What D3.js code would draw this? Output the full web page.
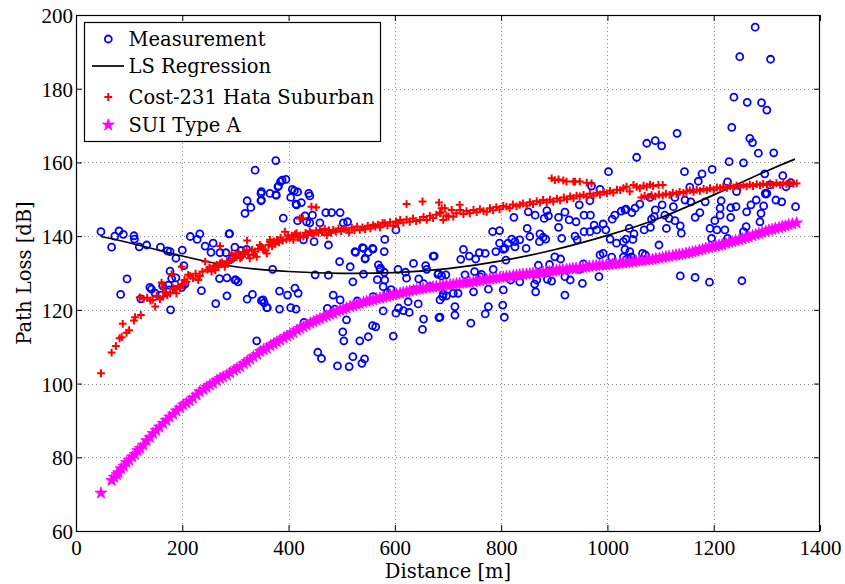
<!DOCTYPE html>
<html><head><meta charset="utf-8">
<script src="https://cdn.jsdelivr.net/npm/d3@7"></script>
<style>
body{margin:0;background:#fff}
</style>
</head><body>
<svg id="chart" width="845" height="584" font-family="Liberation Serif"></svg>
<script>
// ---------------- DATA ----------------
const xTicks = [0,200,400,600,800,1000,1200,1400];
const yTicks = [60,80,100,120,140,160,180,200];
const xLabel = "Distance [m]";
const yLabel = "Path Loss [dB]";
const legendLabels = ["Measurement","LS Regression","Cost-231 Hata Suburban","SUI Type A"];

// [distance m, path loss dB]
const measurement = [
[47,141.2],[67,137.0],[73,140.0],[81,141.4],[89,140.5],[109,140.1],[110,139.2],[119,137.1],[133,137.6],[96,128.4],
[84,124.2],[122,123.0],[159,137.0],[172,136.0],[177,135.8],[188,134.0],[200,136.2],[203,132.0],[177,130.5],[188,128.7],
[180,128.5],[139,126.1],[142,125.6],[149,124.5],[160,124.0],[163,126.5],[174,126.7],[176,125.4],[205,127.0],[199,126.1],
[178,120.0],[215,139.9],[228,139.1],[233,140.6],[243,137.3],[254,135.6],[258,138.1],[271,135.5],[282,135.5],[289,140.7],
[299,137.0],[310,136.1],[321,136.4],[294,134.0],[236,125.2],[270,128.5],[284,128.7],[299,128.1],[305,127.6],[284,123.8],
[263,121.7],[322,122.9],[332,124.2],[349,122.5],[354,121.9],[340,111.6],[359,120.6],[318,146.2],[329,147.8],[348,149.6],
[337,157.9],[376,160.5],[322,149.6],[348,151.6],[365,151.6],[380,153.4],[377,151.1],[388,155.2],[395,155.4],[385,154.8],
[390,144.9],[407,152.7],[411,152.3],[417,152.0],[404,150.5],[414,148.7],[424,149.1],[438,151.6],[440,150.9],[417,144.2],
[431,145.5],[445,145.7],[440,143.6],[459,143.6],[434,143.9],[470,146.4],[481,146.4],[497,146.4],[503,143.6],[511,143.9],
[475,137.6],[496,133.1],[448,138.5],[428,139.0],[516,131.7],[525,135.8],[541,136.7],[544,134.0],[558,136.7],[580,135.8],
[581,139.1],[569,132.2],[572,131.0],[581,128.1],[541,129.7],[521,127.6],[606,131.0],[622,128.6],[635,132.6],[475,129.4],
[450,129.5],[370,131.0],[381,153.6],[349,152.1],[376,151.2],[349,149.8],[415,148.5],[288,140.6],[301,128.1],[602,141.7],
[526,135.6],[539,136.9],[550,135.6],[559,136.5],[544,133.8],[573,131.3],[580,130.2],[672,134.6],[658,132.0],[660,131.0],
[620,130.2],[567,128.2],[578,126.3],[586,124.7],[593,125.5],[645,128.4],[654,127.1],[666,126.3],[681,129.6],[688,129.2],
[696,129.5],[412,125.9],[418,124.5],[383,125.1],[398,124.0],[352,122.7],[360,120.6],[383,120.2],[404,120.6],[414,120.2],
[484,124.0],[497,122.7],[473,120.4],[487,120.2],[529,122.4],[559,123.6],[578,119.7],[602,119.1],[607,120.5],[616,119.8],
[627,119.3],[625,122.2],[644,121.6],[636,125.4],[685,122.7],[690,123.6],[654,117.5],[652,114.7],[683,117.9],[509,117.3],
[429,116.6],[502,114.0],[504,111.6],[534,111.6],[550,112.7],[558,115.7],[564,115.4],[597,112.9],[455,108.5],[462,106.8],
[521,107.3],[543,106.7],[538,105.5],[492,104.8],[514,104.6],[697,123.8],[719,124.5],
[970,153.6],[986,152.7],[947,148.5],[967,149.6],[851,146.6],[864,145.7],[886,146.9],[889,145.5],[881,144.8],[920,146.5],
[928,144.4],[941,143.9],[908,145.1],[908,142.4],[824,145.1],[956,145.7],[968,145.7],[1014,145.7],[1026,146.8],[1033,147.1],
[1046,146.4],[784,141.2],[797,141.5],[849,142.1],[873,140.6],[879,139.7],[884,139.2],[872,138.5],[854,139.9],[835,139.0],
[826,138.5],[820,139.2],[813,138.1],[797,138.1],[807,136.7],[826,137.1],[847,136.7],[914,139.4],[939,140.0],[943,139.0],
[956,141.2],[967,141.2],[980,141.7],[975,143.0],[992,143.3],[997,141.7],[1005,139.2],[1017,138.1],[1030,138.5],[1035,139.2],
[1009,144.6],[729,136.4],[724,133.7],[740,134.6],[752,133.8],[759,135.5],[770,135.3],[790,135.8],[804,136.4],[809,133.5],
[785,131.0],[870,132.1],[891,132.3],[901,134.4],[912,133.8],[955,132.5],[947,131.0],[986,134.9],[992,135.3],[1008,134.3],
[1030,134.3],[1033,136.4],[1041,133.5],[750,130.4],[732,129.5],[760,129.0],[818,128.1],[835,127.6],[867,128.1],[887,128.3],
[920,129.0],[930,128.1],[984,129.0],[776,125.6],[804,125.4],[863,127.0],[865,124.9],[920,124.0],[953,127.2],[748,124.9],
[710,124.5],[691,124.3],[713,120.9],[713,118.6],[743,116.4],[776,120.9],[770,118.9],[803,121.3],[806,118.0],[685,118.0],
[674,134.6],[682,129.9],[763,129.6],[895,127.8],
[1131,167.9],[1074,165.2],[1090,165.9],[1102,164.5],[1055,161.4],[1234,169.5],[1268,166.5],[1273,165.4],[1284,162.5],[1313,162.6],
[1229,160.2],[1256,159.9],[1145,157.5],[1197,158.1],[1178,156.9],[1171,154.9],[1155,153.3],[1226,154.7],[1296,156.9],[1330,156.4],
[1345,154.5],[1080,150.5],[1127,150.5],[1146,149.8],[1157,149.3],[1184,149.3],[1214,149.6],[1243,152.1],[1242,148.0],[1232,147.7],
[1270,148.5],[1280,149.8],[1298,151.4],[1317,149.8],[1328,149.3],[1061,148.7],[1052,147.6],[1035,147.3],[1090,147.1],[1103,148.5],
[1124,148.0],[1108,145.7],[1116,144.8],[1088,145.3],[1083,144.6],[1127,144.2],[1137,142.8],[1139,140.8],[1111,142.1],[1081,142.4],
[1069,141.7],[1041,142.1],[1050,140.6],[1048,139.1],[1165,145.1],[1174,146.4],[1202,144.2],[1212,147.6],[1212,145.7],[1193,142.1],
[1196,139.4],[1206,141.7],[1221,141.7],[1226,139.4],[1232,145.1],[1256,141.2],[1261,142.6],[1287,143.9],[1289,146.2],[1262,146.6],
[1294,148.2],[1354,148.0],[1297,151.6],[1097,137.6],[1042,135.8],[1045,134.4],[1036,133.7],[1066,135.3],[1071,134.9],[1137,129.2],
[1165,128.8],[1192,127.5],[1253,127.9],[1002,157.5],[1336,153.4],[1306,153.9],[1300,151.6],
[1278,196.7],[1249,188.7],[1307,188.0],[1238,177.7],[1263,176.3],[1290,176.2],[1300,174.2]
];

// least-squares regression curve samples
const regression = [
[47,139.9],[100,138.2],[200,134.6],[300,131.7],[400,130.4],[500,129.9],[600,130.1],[700,131.2],
[800,133.3],[900,136.3],[1000,140.2],[1100,145.0],[1200,151.2],[1300,157.7],[1353,160.9]
];

const hata = [
[47,102.8],[67,108.4],[75,110.2],[82,112.3],[86,112.6],[88,116.2],[95,113.8],[100,114.5],[109,117.1],[111,118.0],
[122,118.6],[120,123.4],[127,123.0],[134,123.3],[140,122.5],[144,122.7],[149,120.9],[152,123.8],[158,122.9],[161,127.4],
[164,123.6],[164,126.1],[168,124.8],[172,124.0],[177,124.5],[180,129.7],[183,125.9],[186,125.6],[189,124.5],[192,126.5],
[196,125.9],[199,131.7],[200,126.7],[204,128.1],[208,127.6],[211,129.5],[215,129.2],[220,128.6],[225,129.8],[230,128.1],
[233,129.2],[238,130.4],[243,133.1],[247,130.9],[251,131.5],[255,130.4],[259,132.0],[262,130.8],[265,132.2],[268,131.6],
[271,132.6],[271,137.3],[275,132.9],[280,131.7],[284,133.2],[287,132.7],[290,133.5],[293,135.3],[296,133.9],[299,134.6],
[302,134.3],[306,135.6],[309,134.0],[312,134.4],[315,135.7],[318,135.2],[321,136.2],[322,138.8],[324,135.0],[327,134.0],
[331,136.3],[334,134.9],[337,135.8],[340,134.4],[343,136.6],[346,137.6],[349,137.1],[352,136.4],[356,136.2],[359,135.3],
[362,137.6],[365,138.5],[365,139.0],[369,137.2],[372,138.6],[375,137.9],[378,139.0],[382,138.3],[385,139.6],[389,138.8],
[393,141.2],[396,139.1],[399,140.2],[402,139.4],[406,140.1],[409,139.0],[412,140.5],[415,140.8],[418,139.6],[421,144.8],
[422,140.2],[427,144.8],[428,139.9],[432,140.9],[436,140.3],[440,141.3],[443,140.8],[443,148.0],[447,140.4],[452,147.8],
[452,141.5],[456,140.9],[459,141.7],[463,141.0],[468,142.0],[472,140.3],[476,141.6],[480,140.9],[484,141.7],[489,141.2],
[494,142.1],[499,141.4],[504,142.0],[509,141.7],[514,141.0],[519,142.3],[524,141.6],[529,142.6],[534,141.7],[539,142.4],
[544,141.9],[549,142.8],[554,142.1],[559,143.0],[563,142.6],[568,143.1],[572,142.4],[577,143.6],[581,143.5],[586,142.9],
[591,143.8],[597,142.8],[602,144.0],[606,143.5],[610,144.4],[616,143.7],[622,148.7],[622,144.5],[628,143.9],[634,144.8],
[640,144.1],[647,144.4],[652,149.4],[654,145.2],[660,144.4],[666,145.5],[672,144.9],[678,145.8],[683,149.1],[685,146.2],
[686,146.4],[688,147.6],[691,144.4],[694,147.6],[697,145.6],[701,145.3],[707,147.1],[710,145.3],[716,146.2],[722,148.5],
[723,147.1],[729,146.0],[735,146.8],[741,146.2],[748,147.1],[754,146.5],[760,147.3],[767,146.8],[773,146.6],[779,147.6],
[785,147.0],[791,147.9],[797,147.3],[804,148.2],[810,148.0],[816,147.6],[822,148.6],[829,148.1],[835,148.5],[841,148.9],
[848,148.3],[854,149.2],[860,148.7],[867,149.5],[873,149.1],[879,149.8],[886,149.2],[892,149.9],[895,155.7],[898,149.4],
[901,155.2],[905,150.2],[908,155.4],[911,149.7],[917,155.1],[918,150.5],[923,154.8],[924,150.0],[930,150.8],[936,154.8],
[936,150.3],[939,154.8],[942,151.0],[948,154.8],[948,150.8],[955,151.2],[961,154.5],[961,150.7],[967,151.5],[970,154.3],
[974,151.0],[980,151.8],[986,151.3],[993,152.0],[999,151.6],[1005,152.3],[1011,151.8],[1018,152.6],[1024,152.5],[1030,153.0],
[1036,153.4],[1042,152.1],[1049,153.9],[1055,153.4],[1061,153.0],[1064,150.5],[1068,153.7],[1070,150.9],[1074,153.4],[1077,150.6],
[1080,154.0],[1083,151.1],[1086,153.6],[1090,150.8],[1096,153.9],[1097,151.3],[1104,153.9],[1104,151.0],[1110,151.5],[1117,151.2],
[1123,151.8],[1130,151.5],[1136,152.0],[1143,151.7],[1149,152.1],[1155,152.4],[1162,152.0],[1168,152.6],[1174,152.3],[1181,152.8],
[1187,152.5],[1193,153.0],[1200,152.6],[1206,153.2],[1212,153.0],[1218,153.4],[1225,153.1],[1231,153.6],[1237,153.2],[1243,153.7],
[1250,153.4],[1256,153.9],[1262,153.5],[1268,154.0],[1274,153.6],[1281,154.1],[1287,153.8],[1293,154.2],[1300,153.9],[1306,154.3],
[1312,153.9],[1318,154.4],[1325,153.9],[1331,154.5],[1337,154.1],[1343,154.6],[1350,154.2],[1356,154.3]
];

const sui = [
[47,70.3],[67,73.7],[72,74.6],[77,75.3],[80,75.8],[85,76.9],[90,77.6],[95,78.6],[100,79.2],[106,80.1],
[111,80.8],[116,81.8],[121,82.4],[127,83.3],[133,84.5],[139,85.4],[145,86.5],[151,87.3],[157,88.2],[164,89.2],
[170,90.0],[176,90.9],[183,91.7],[189,92.6],[196,93.4],[202,94.2],[208,94.7],[214,95.3],[220,96.1],[227,96.9],
[233,97.8],[240,98.4],[246,99.0],[252,99.6],[258,100.1],[265,100.8],[271,101.4],[277,101.8],[284,102.3],[290,102.9],
[297,103.6],[303,104.1],[309,104.6],[316,105.4],[322,106.0],[328,106.6],[334,107.3],[341,107.9],[347,108.7],[353,109.2],
[359,109.6],[366,110.3],[372,110.8],[378,111.3],[384,111.8],[391,112.4],[397,112.9],[403,113.4],[409,113.8],[416,114.5],
[422,115.0],[428,115.4],[434,115.9],[441,116.4],[447,116.8],[453,117.2],[459,117.6],[466,118.0],[472,118.4],[478,118.8],
[484,119.1],[491,119.6],[497,119.9],[503,120.2],[509,120.5],[516,120.9],[522,121.2],[528,121.5],[534,121.7],[541,122.0],
[547,122.3],[553,122.5],[559,122.7],[566,123.0],[572,123.2],[578,123.4],[585,123.6],[591,123.9],[597,124.1],[603,124.3],
[610,124.5],[616,124.7],[622,124.9],[628,125.1],[635,125.3],[641,125.5],[647,125.6],[653,125.8],[660,126.0],[666,126.1],
[672,126.2],[678,126.3],[685,126.4],[691,126.6],[697,126.7],[704,126.8],[710,126.9],[716,127.1],[722,127.2],[729,127.3],
[735,127.4],[741,127.5],[748,127.6],[754,127.8],[760,127.9],[766,128.1],[773,128.2],[779,128.4],[785,128.5],[791,128.6],
[798,128.8],[804,128.9],[810,129.0],[816,129.1],[823,129.3],[829,129.4],[835,129.5],[841,129.6],[848,129.7],[854,129.8],
[860,129.9],[866,130.0],[873,130.0],[879,130.2],[885,130.3],[891,130.4],[898,130.5],[904,130.7],[910,130.8],[916,130.9],
[923,131.0],[929,131.1],[935,131.2],[941,131.3],[948,131.4],[954,131.5],[960,131.6],[966,131.8],[973,131.9],[979,132.0],
[985,132.1],[991,132.2],[998,132.2],[1004,132.3],[1010,132.4],[1016,132.5],[1023,132.6],[1029,132.7],[1035,132.8],[1041,132.9],
[1048,133.0],[1054,133.2],[1060,133.3],[1066,133.4],[1073,133.5],[1079,133.6],[1085,133.7],[1091,133.9],[1098,134.0],[1104,134.2],
[1110,134.4],[1116,134.5],[1123,134.7],[1129,134.9],[1135,135.0],[1141,135.1],[1148,135.3],[1154,135.5],[1160,135.7],[1166,135.9],
[1173,136.2],[1179,136.4],[1185,136.7],[1191,136.9],[1198,137.1],[1204,137.3],[1210,137.5],[1216,137.7],[1223,138.0],[1229,138.3],
[1235,138.5],[1241,138.8],[1248,139.0],[1254,139.3],[1260,139.6],[1266,139.8],[1273,140.1],[1279,140.4],[1285,140.7],[1291,141.0],
[1298,141.3],[1304,141.6],[1310,141.8],[1316,142.1],[1323,142.3],[1329,142.6],[1335,142.8],[1341,143.1],[1348,143.3],[1356,143.6]
];

// ---------------- CHART ----------------
const FONT = "Liberation Serif";
const LFONT = "DejaVu Serif";
const svg = d3.select("#chart");
const L = 76, R = 820, T = 15, B = 531;
const x = d3.scaleLinear().domain([0,1400]).range([L,R]);
const y = d3.scaleLinear().domain([60,200]).range([B,T]);

svg.append("rect").attr("width",845).attr("height",584).attr("fill","#fff");

// grid
const grid = svg.append("g").attr("stroke","#8a8a8a").attr("stroke-width",1)
  .attr("stroke-dasharray","1,3").attr("fill","none");
xTicks.slice(1,-1).forEach(v=>{
  const px = Math.round(x(v))+0.5;
  grid.append("line").attr("x1",px).attr("x2",px).attr("y1",T).attr("y2",B);
});
yTicks.slice(1,-1).forEach(v=>{
  const py = Math.round(y(v))+0.5;
  grid.append("line").attr("x1",L).attr("x2",R).attr("y1",py).attr("y2",py);
});

// axes (ticks inward)
const fs = 21, lfs = 19.5;
const fmt = d3.format("d");
const gB = svg.append("g").attr("transform",`translate(0,${B})`)
  .call(d3.axisBottom(x).tickValues(xTicks).tickFormat(fmt).tickSizeInner(-6).tickSizeOuter(0).tickPadding(9));
const gL = svg.append("g").attr("transform",`translate(${L},0)`)
  .call(d3.axisLeft(y).tickValues(yTicks).tickFormat(fmt).tickSizeInner(-6).tickSizeOuter(0).tickPadding(3));
const gT = svg.append("g").attr("transform",`translate(0,${T})`)
  .call(d3.axisTop(x).tickValues(xTicks).tickSizeInner(-6).tickSizeOuter(0).tickFormat(""));
const gR = svg.append("g").attr("transform",`translate(${R},0)`)
  .call(d3.axisRight(y).tickValues(yTicks).tickSizeInner(-6).tickSizeOuter(0).tickFormat(""));
[gB,gL,gT,gR].forEach(g=>{
  g.attr("font-family",FONT).attr("font-size",fs);
  g.select(".domain").remove();
  g.selectAll("line").attr("stroke","#000").attr("stroke-width",1);
  g.selectAll("text").attr("font-size",fs).attr("font-family",FONT).attr("fill","#000");
});
gL.selectAll("text").attr("dy","0.36em");
gB.selectAll("text").attr("dy","0.71em");

svg.append("rect").attr("x",L+0.5).attr("y",T+0.5).attr("width",R-L-1).attr("height",B-T)
  .attr("fill","none").attr("stroke","#000").attr("stroke-width",1.2);

// axis labels
svg.append("text").attr("x",(L+R)/2).attr("y",578).attr("text-anchor","middle")
  .attr("font-family",LFONT).attr("font-size",lfs).text(xLabel);
svg.append("text").attr("transform",`translate(31,${(T+B)/2}) rotate(-90)`).attr("text-anchor","middle")
  .attr("font-family",LFONT).attr("font-size",lfs).text(yLabel);

// marker shapes
const plusPath = "M-3.9,0H3.9M0,-3.9V3.9";
const starPath = d3.symbol(d3.symbolStar, 44)();

// series
const plot = svg.append("g");
plot.append("g").selectAll("circle").data(measurement).join("circle")
  .attr("cx",d=>x(d[0])).attr("cy",d=>y(d[1])).attr("r",3.5)
  .attr("fill","none").attr("stroke","#0000ff").attr("stroke-width",1.8);

plot.append("path").datum(regression)
  .attr("d",d3.line().x(d=>x(d[0])).y(d=>y(d[1])).curve(d3.curveNatural))
  .attr("fill","none").attr("stroke","#000").attr("stroke-width",1.7);

plot.append("g").selectAll("path").data(hata).join("path")
  .attr("transform",d=>`translate(${x(d[0])},${y(d[1])})`).attr("d",plusPath)
  .attr("stroke","#ff0000").attr("stroke-width",2).attr("fill","none");

plot.append("g").selectAll("path").data(sui).join("path")
  .attr("transform",d=>`translate(${x(d[0])},${y(d[1])})`).attr("d",starPath)
  .attr("fill","#ff00ff").attr("stroke","#ff00ff").attr("stroke-width",0.8);

// legend
const lg = svg.append("g");
lg.append("rect").attr("x",84.5).attr("y",22.5).attr("width",296).attr("height",119)
  .attr("fill","#fff").attr("stroke","#000").attr("stroke-width",1.2);
const rowsY = [39,66,97,125];
const baseY = [45.7,72.5,104.3,132.3];
const mx = 108.3;
lg.append("circle").attr("cx",mx).attr("cy",rowsY[0]).attr("r",3.5)
  .attr("fill","none").attr("stroke","#0000ff").attr("stroke-width",1.8);
lg.append("line").attr("x1",92).attr("x2",124).attr("y1",rowsY[1]).attr("y2",rowsY[1])
  .attr("stroke","#000").attr("stroke-width",1.7);
lg.append("path").attr("transform",`translate(${mx},${rowsY[2]})`).attr("d",plusPath)
  .attr("stroke","#ff0000").attr("stroke-width",2);
lg.append("path").attr("transform",`translate(${mx},${rowsY[3]})`).attr("d",starPath)
  .attr("fill","#ff00ff").attr("stroke","#ff00ff").attr("stroke-width",0.8);
legendLabels.forEach((t,i)=>{
  lg.append("text").attr("x",128.5).attr("y",baseY[i]).attr("font-family",LFONT).attr("font-size",lfs).text(t);
});
</script>
</body></html>
